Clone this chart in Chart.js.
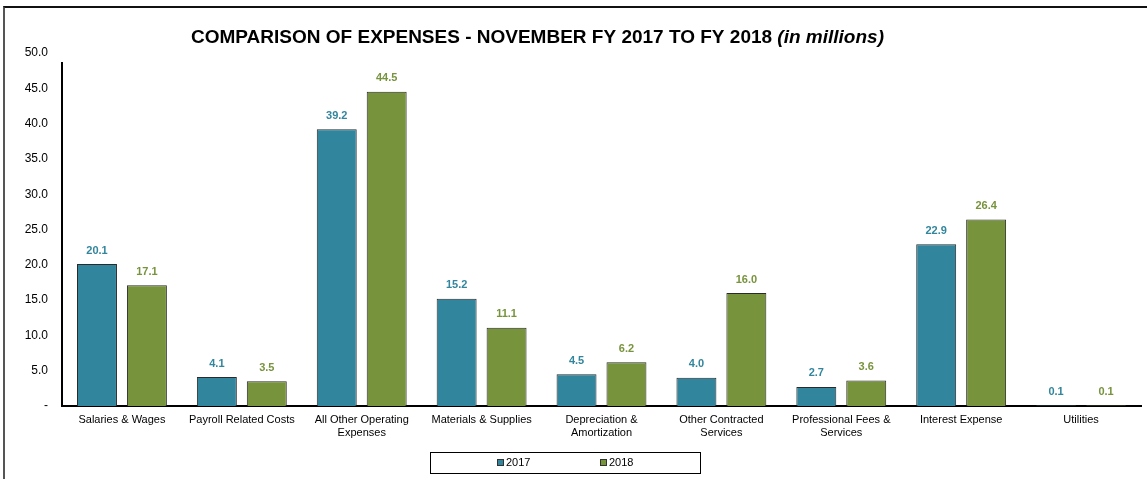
<!DOCTYPE html>
<html>
<head>
<meta charset="utf-8">
<script src="https://cdn.jsdelivr.net/npm/chart.js@4"></script>
<style>
  html, body { margin: 0; padding: 0; background: #fff; }
  #wrap { position: relative; width: 1147px; height: 479px; overflow: hidden; }
  #frame { position: absolute; left: 3px; top: 6px; width: 1160px; height: 500px;
           border-top: 2px solid #111; border-left: 2px solid #555; box-sizing: border-box; }
  canvas { position: absolute; left: 0; top: 0; }
</style>
</head>
<body>
<div id="wrap">
  <div id="frame"></div>
  <canvas id="chart" width="1147" height="479"></canvas>
</div>
<script>
// chart data
const categories = [
  'Salaries & Wages',
  'Payroll Related Costs',
  ['All Other Operating', 'Expenses'],
  'Materials & Supplies',
  ['Depreciation &', 'Amortization'],
  ['Other Contracted', 'Services'],
  ['Professional Fees &', 'Services'],
  'Interest Expense',
  'Utilities'
];
const seriesNames = ['2017', '2018'];
const values2017 = [20.1, 4.1, 39.2, 15.2, 4.5, 4.0, 2.7, 22.9, 0.1];
const values2018 = [17.1, 3.5, 44.5, 11.1, 6.2, 16.0, 3.6, 26.4, 0.1];
const seriesColors = ['#31859C', '#77933C'];

const titleMain = 'COMPARISON OF EXPENSES - NOVEMBER FY 2017 TO FY 2018 ';
const titleItalic = '(in millions)';
const FONT = '"Liberation Sans", Arial, sans-serif';

// title, value labels, y axis line and boxed legend
const extras = {
  id: 'extras',
  afterDatasetsDraw(chart) {
    const ctx = chart.ctx;
    const area = chart.chartArea;
    ctx.save();
    // y axis line (starts a little below the top of the plot, as in the original)
    ctx.strokeStyle = '#000';
    ctx.lineWidth = 2;
    ctx.beginPath();
    ctx.moveTo(area.left, area.top + 9);
    ctx.lineTo(area.left, area.bottom + 1);
    ctx.stroke();
    // value labels
    ctx.font = 'bold 11px ' + FONT;
    ctx.textAlign = 'center';
    ctx.textBaseline = 'bottom';
    chart.data.datasets.forEach((ds, i) => {
      const meta = chart.getDatasetMeta(i);
      ctx.fillStyle = ds.backgroundColor;
      meta.data.forEach((bar, j) => {
        ctx.fillText(ds.data[j].toFixed(1), bar.x, bar.y - 8);
      });
    });
    // title
    ctx.textAlign = 'left';
    ctx.textBaseline = 'alphabetic';
    ctx.fillStyle = '#000';
    ctx.font = 'bold 19px ' + FONT;
    const w1 = ctx.measureText(titleMain).width;
    ctx.font = 'italic bold 19px ' + FONT;
    const w2 = ctx.measureText(titleItalic).width;
    const tx = 537.5 - (w1 + w2) / 2;
    ctx.font = 'bold 19px ' + FONT;
    ctx.fillText(titleMain, tx, 43);
    ctx.font = 'italic bold 19px ' + FONT;
    ctx.fillText(titleItalic, tx + w1, 43);
    // legend
    ctx.strokeStyle = '#000';
    ctx.lineWidth = 1;
    ctx.strokeRect(430.5, 452.5, 270, 21);
    ctx.font = '11px ' + FONT;
    ctx.textBaseline = 'middle';
    const lx = [497, 600];
    chart.data.datasets.forEach((ds, i) => {
      ctx.fillStyle = ds.backgroundColor;
      ctx.fillRect(lx[i], 459, 7, 7);
      ctx.strokeStyle = '#333';
      ctx.strokeRect(lx[i] + 0.5, 459.5, 6, 6);
      ctx.fillStyle = '#000';
      ctx.fillText(ds.label, lx[i] + 9, 463);
    });
    ctx.restore();
  }
};

new Chart(document.getElementById('chart'), {
  type: 'bar',
  data: {
    labels: categories,
    datasets: [
      { label: seriesNames[0], data: values2017, backgroundColor: seriesColors[0],
        borderColor: '#2a2a2a', borderWidth: 1 },
      { label: seriesNames[1], data: values2018, backgroundColor: seriesColors[1],
        borderColor: '#2a2a2a', borderWidth: 1 }
    ]
  },
  options: {
    responsive: false,
    animation: false,
    layout: { padding: { left: 0, top: 53, right: 6, bottom: 0 } },
    datasets: { bar: { categoryPercentage: 0.833, barPercentage: 0.8 } },
    plugins: { legend: { display: false }, title: { display: false }, tooltip: { enabled: false } },
    scales: {
      x: {
        grid: { display: false, drawTicks: false },
        border: { display: true, color: '#000', width: 2 },
        ticks: { color: '#000', font: { family: FONT, size: 11 }, padding: 7, maxRotation: 0, autoSkip: false },
        afterFit(scale) { scale.height = 73; }
      },
      y: {
        min: 0, max: 50,
        grid: { display: false, drawTicks: false },
        border: { display: false },
        ticks: {
          stepSize: 5, color: '#000', font: { family: FONT, size: 12 }, padding: 14,
          callback: v => v === 0 ? '-' : v.toFixed(1)
        },
        afterFit(scale) { scale.width = 62; }
      }
    }
  },
  plugins: [extras]
});
</script>
</body>
</html>
